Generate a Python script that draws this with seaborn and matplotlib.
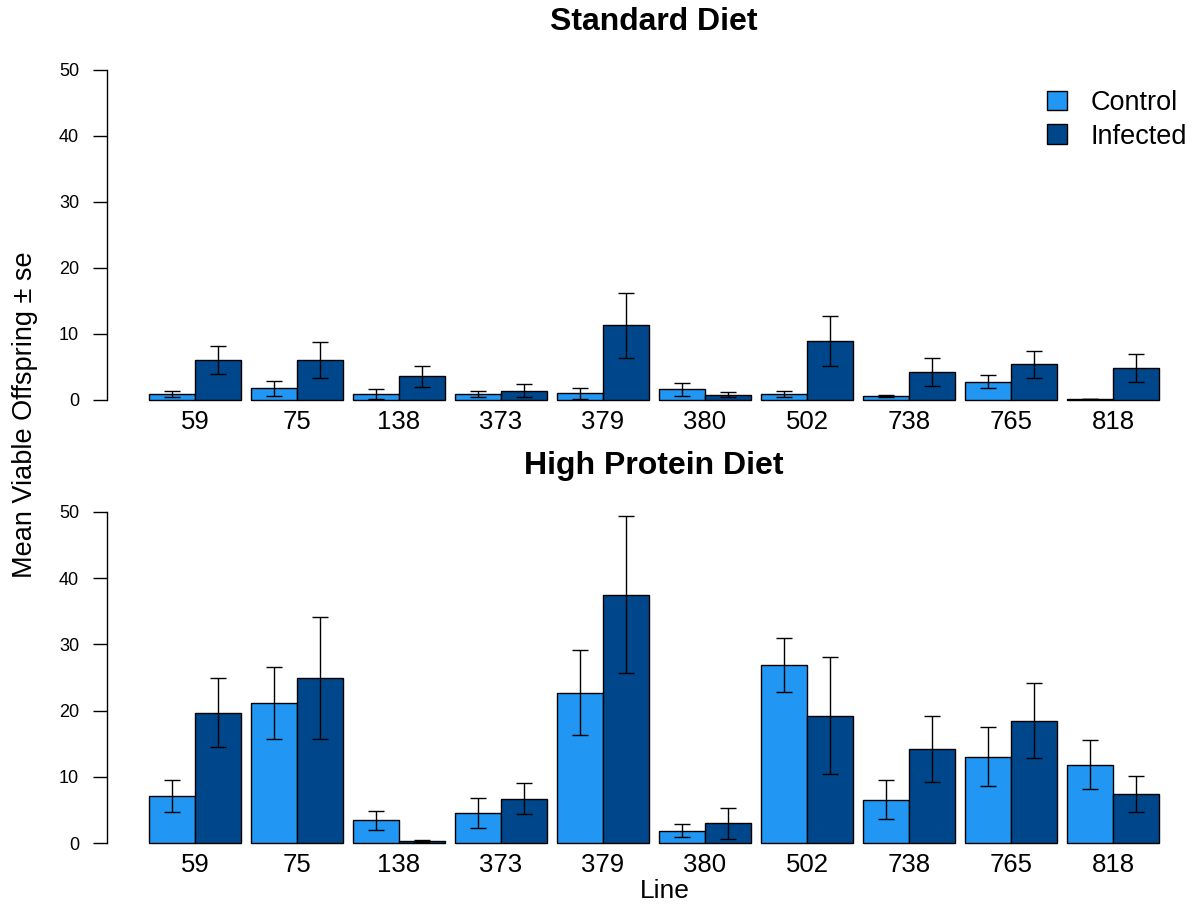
import pandas as pd
import matplotlib
matplotlib.use('Agg')
import matplotlib.pyplot as plt
import seaborn as sns

# 数据
lines = ['59', '75', '138', '373', '379', '380', '502', '738', '765', '818']
groups = ['Control', 'Infected']

std_control = [0.9, 1.8, 0.9, 0.9, 1.0, 1.6, 0.9, 0.65, 2.8, 0.15]
std_control_se = [0.5, 1.15, 0.7, 0.45, 0.8, 1.0, 0.4, 0.15, 1.05, 0.05]
std_infected = [6.1, 6.05, 3.6, 1.4, 11.3, 0.8, 8.9, 4.2, 5.45, 4.85]
std_infected_se = [2.1, 2.7, 1.6, 1.0, 4.95, 0.4, 3.8, 2.15, 2.05, 2.05]

hp_control = [7.1, 21.2, 3.4, 4.5, 22.7, 1.85, 26.9, 6.5, 13.0, 11.8]
hp_control_se = [2.35, 5.45, 1.45, 2.25, 6.4, 1.0, 4.05, 2.95, 4.45, 3.7]
hp_infected = [19.7, 24.9, 0.35, 6.7, 37.5, 2.95, 19.2, 14.2, 18.5, 7.4]
hp_infected_se = [5.15, 9.25, 0.15, 2.3, 11.85, 2.3, 8.85, 5.0, 5.65, 2.75]

colors = ['#2196F3', '#00468B']

sns.set_style('white')
plt.rcParams['font.family'] = ['Liberation Sans', 'DejaVu Sans']
plt.rcParams['text.color'] = 'black'
plt.rcParams['xtick.color'] = 'black'
plt.rcParams['ytick.color'] = 'black'
plt.rcParams['axes.labelcolor'] = 'black'


def make_df(ctrl, ctrl_se, inf, inf_se):
    df = pd.DataFrame({
        'Line': lines * 2,
        'Group': ['Control'] * len(lines) + ['Infected'] * len(lines),
        'mean': list(ctrl) + list(inf),
        'se': list(ctrl_se) + list(inf_se),
    })
    return df


W, H = 1196, 907
fig = plt.figure(figsize=(W / 100, H / 100), dpi=100)

left = 107 / W
width = 1092 / W
ax1 = fig.add_axes([left, (H - 400) / H, width, 330 / H])
ax2 = fig.add_axes([left, (H - 843) / H, width, 331 / H])

panels = [
    (ax1, make_df(std_control, std_control_se, std_infected, std_infected_se)),
    (ax2, make_df(hp_control, hp_control_se, hp_infected, hp_infected_se)),
]

for ax, df in panels:
    sns.barplot(data=df, x='Line', y='mean', hue='Group', order=lines,
                hue_order=groups, palette=colors, width=0.9, errorbar=None,
                edgecolor='black', linewidth=1.0, saturation=1, ax=ax)
    # 误差线
    for cont, g in zip(ax.containers, groups):
        sub = df[df['Group'] == g].set_index('Line').loc[lines]
        xs = [b.get_x() + b.get_width() / 2 for b in cont]
        ax.errorbar(xs, sub['mean'].values, yerr=sub['se'].values, fmt='none',
                    ecolor='black', elinewidth=1.0, capsize=5.5, capthick=1.0,
                    zorder=5)
        for b in cont:
            b.set_clip_on(False)
    ax.set_xlim(-0.863, 9.843)
    ax.set_ylim(0, 50)
    ax.set_yticks([0, 10, 20, 30, 40, 50])
    for s in ['top', 'right', 'bottom']:
        ax.spines[s].set_visible(False)
    ax.spines['left'].set_bounds(0, 50)
    ax.spines['left'].set_linewidth(1.0)
    ax.spines['left'].set_color('black')
    ax.tick_params(axis='y', direction='out', length=10, width=1.0,
                   pad=10, labelsize=13, left=True, colors='black')
    ax.tick_params(axis='x', length=0, pad=7, labelsize=18.5, colors='black')
    ax.set_xlabel('')
    ax.set_ylabel('')
    if ax.get_legend() is not None:
        ax.get_legend().remove()

handles, labels = ax1.get_legend_handles_labels()
ax1.legend(handles[:2], labels[:2], loc='upper left',
           bbox_to_anchor=(1047 / W, 1 - 90 / H), bbox_transform=fig.transFigure,
           frameon=False, fontsize=19.5, handlelength=0.75, handleheight=0.75,
           handletextpad=0.85, labelspacing=0.28, borderpad=0, borderaxespad=0)

fig.text(654 / W, 1 - 22 / H, 'Standard Diet', ha='center', va='center',
         fontsize=23, fontweight='bold')
fig.text(654 / W, 1 - 466 / H, 'High Protein Diet', ha='center', va='center',
         fontsize=23, fontweight='bold')
fig.text(665 / W, 1 - 891 / H, 'Line', ha='center', va='center', fontsize=19)
fig.text(25 / W, 1 - 415 / H, 'Mean Viable Offspring ± se', ha='center',
         va='center', rotation=90, fontsize=19.5)

fig.savefig('out.png', dpi=100)
